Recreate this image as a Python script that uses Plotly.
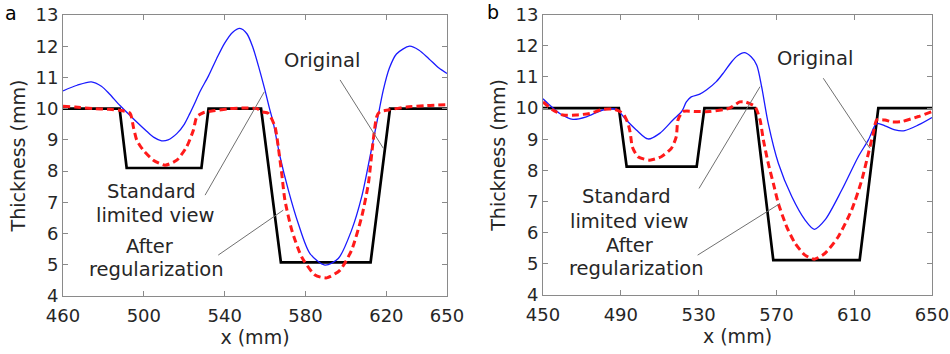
import plotly.graph_objects as go

# ---------------- data: panel a ----------------
a_orig_x = [460, 488, 491.5, 528.5, 532, 558, 567.8, 612.2, 621.8, 650]
a_orig_y = [10, 10, 8.1, 8.1, 10, 10, 5.08, 5.08, 10, 10]

a_std_x = [460, 467, 474, 479, 483, 488.2, 494.8, 501.4, 505, 508.8, 512, 516.3, 520, 522.8,
           525, 527.8, 532, 536, 540, 544, 547.5, 551, 554, 557, 559.9, 562, 564.1, 567.4,
           571.5, 576.4, 582.2, 589.6, 596.2, 602.8, 607.8, 611.9, 615.2, 618.5, 621.5, 625,
           631.5, 636, 641, 646, 650]
a_std_y = [10.57, 10.75, 10.86, 10.72, 10.47, 10.1, 9.68, 9.28, 9.08, 8.97, 9.0, 9.2, 9.5, 9.85,
           10.15, 10.55, 11.05, 11.6, 12.1, 12.45, 12.57, 12.4, 11.95, 11.3, 10.6, 10.05, 9.53, 8.46,
           7.39, 6.32, 5.36, 4.99, 5.2, 6.11, 7.18, 8.46, 9.53, 10.6, 11.3, 11.75,
           12.0, 11.88, 11.6, 11.3, 11.13]

a_reg_x = [460, 466, 475, 482, 488, 493.2, 494.8, 496.5, 499.7, 504.7, 510.5, 516.3, 521.2,
           524.5, 526.2, 529.4, 534.4, 542, 550, 556, 558.3, 561.6, 564.9, 566.5, 568.2, 569.8,
           573.2, 578.1, 584.7, 590.5, 597.1, 602.8, 607.8, 611.1, 613.5, 615.2, 616.8, 621,
           630, 640, 650]
a_reg_y = [10.08, 10.05, 10.0, 9.98, 9.95, 9.85, 9.42, 8.99, 8.67, 8.35, 8.19, 8.35, 8.78,
           9.31, 9.74, 9.87, 9.93, 10.0, 10.02, 10.0, 9.9, 9.85, 9.42, 8.78, 7.93, 7.07,
           6.11, 5.25, 4.67, 4.58, 4.83, 5.47, 6.54, 7.6, 8.99, 9.74, 9.9, 9.96,
           10.05, 10.1, 10.13]

# ---------------- data: panel b ----------------
b_orig_x = [450, 489, 493, 529, 533, 559, 568.4, 612.8, 622.4, 650]
b_orig_y = [10, 10, 8.12, 8.12, 10, 10, 5.12, 5.12, 10, 10]

b_std_x = [450, 453.4, 458.6, 465.4, 472.3, 480.8, 487.7, 492.8, 498, 504, 510, 516.8, 521.4,
           523.7, 526.2, 530.6, 534, 539.1, 543, 547, 550, 553.5, 557, 559.9, 562.4, 565.8,
           571, 577.9, 584.7, 589.5, 595, 603.6, 612.1, 617.3, 621.6, 625.8, 631, 636, 643, 650]
b_std_y = [10.3, 10.1, 9.83, 9.64, 9.72, 9.94, 9.96, 9.62, 9.3, 9.01, 9.19, 9.62, 9.9,
           10.2, 10.36, 10.45, 10.58, 10.85, 11.15, 11.49, 11.68, 11.78, 11.65, 11.38, 10.69, 9.51,
           8.23, 7.16, 6.41, 6.11, 6.41, 7.37, 8.44, 8.98, 9.51, 9.43, 9.3, 9.28, 9.46, 9.7]

b_reg_x = [450, 455.1, 460.3, 467.1, 474, 480.8, 486.9, 491.1, 493.7, 494.9, 495.9, 498.8,
           504.9, 510.8, 516, 518.5, 519.4, 522, 528.8, 535.7, 546, 551.1, 554, 559, 561.6,
           563.3, 565.8, 568.4, 571, 575.3, 579.6, 584.7, 589.5, 595, 601.8, 608.7, 613.9,
           617.3, 619.8, 621.6, 625.8, 629.3, 634.4, 643, 650]
b_reg_y = [10.2, 9.94, 9.78, 9.78, 9.83, 9.96, 9.96, 9.83, 9.51, 9.19, 8.76, 8.44,
           8.33, 8.44, 8.71, 9.08, 9.62, 9.89, 9.89, 9.89, 10.0, 10.2, 10.2, 10.05, 9.62,
           8.98, 8.23, 7.59, 6.94, 6.19, 5.66, 5.28, 5.15, 5.34, 5.87, 6.73, 7.69,
           8.55, 9.19, 9.62, 9.62, 9.56, 9.57, 9.73, 9.89]

a_xticks = [460, 500, 540, 580, 620, 650]
b_xticks = [450, 490, 530, 570, 610, 650]
y_ticks = [4, 5, 6, 7, 8, 9, 10, 11, 12, 13]

# label text lines: (text, px, py) in figure pixels
a_texts = [("Original", 321.7, 60), ("Standard", 151.7, 191.5), ("limited view", 155, 215),
           ("After", 150, 246.5), ("regularization", 156, 269.5)]
b_texts = [("Original", 815, 58.3), ("Standard", 626.7, 196.5), ("limited view", 629, 221.5),
           ("After", 630, 245), ("regularization", 636.7, 268.5)]
# leader lines in data coords: (x0, y0, x1, y1)
a_leaders = [(597.1, 10.92, 618.5, 8.73), (530.3, 7.23, 559.6, 10.54), (536.8, 5.31, 569, 6.75)]
b_leaders = [(594.1, 10.96, 618.1, 8.71), (530.2, 7.42, 561.6, 10.69), (529.5, 5.28, 571.9, 6.94)]

FONT = "DejaVu Sans"
TXT = "#262626"
AX = "#8a8a8a"
W, H = 950, 354

fig = go.Figure()

def add_panel(xo, yo, xs, ys, xr, yr, xa, ya):
    fig.add_trace(go.Scatter(x=xo, y=yo, mode="lines", line=dict(color="black", width=2.7),
                             xaxis=xa, yaxis=ya, showlegend=False, hoverinfo="skip"))
    fig.add_trace(go.Scatter(x=xs, y=ys, mode="lines",
                             line=dict(color="#1a1aff", width=1.3, shape="spline", smoothing=0.8),
                             xaxis=xa, yaxis=ya, showlegend=False, hoverinfo="skip"))
    fig.add_trace(go.Scatter(x=xr, y=yr, mode="lines",
                             line=dict(color="#ff1a1a", width=3, dash="7px,4px", shape="spline", smoothing=0.6),
                             xaxis=xa, yaxis=ya, showlegend=False, hoverinfo="skip"))

add_panel(a_orig_x, a_orig_y, a_std_x, a_std_y, a_reg_x, a_reg_y, "x", "y")
add_panel(b_orig_x, b_orig_y, b_std_x, b_std_y, b_reg_x, b_reg_y, "x2", "y2")

axis_common = dict(showline=True, linecolor=AX, linewidth=1, mirror="ticks", ticks="inside",
                   ticklen=5, tickcolor=AX, showgrid=False, zeroline=False, automargin=False,
                   tickfont=dict(family=FONT, size=18, color=TXT),
                   title_font=dict(family=FONT, size=19, color=TXT))

fig.update_layout(
    width=W, height=H, margin=dict(l=0, r=0, t=0, b=0),
    plot_bgcolor="white", paper_bgcolor="white",
    xaxis=dict(domain=[63 / W, 447 / W], range=[460, 650], tickvals=a_xticks, anchor="y",
               title=dict(text="x (mm)", standoff=5), ticklabelstandoff=3, **axis_common),
    yaxis=dict(domain=[1 - 296 / H, 1 - 15 / H], range=[4, 13], tickvals=y_ticks, anchor="x",
               title=dict(text="Thickness (mm)", standoff=4), **axis_common),
    xaxis2=dict(domain=[543 / W, 932 / W], range=[450, 650], tickvals=b_xticks, anchor="y2",
                title=dict(text="x (mm)", standoff=5), ticklabelstandoff=3, **axis_common),
    yaxis2=dict(domain=[1 - 295 / H, 1 - 14.7 / H], range=[4, 13], tickvals=y_ticks, anchor="x2",
                title=dict(text="Thickness (mm)", standoff=4), **axis_common),
)

for texts in (a_texts, b_texts):
    for text, px, py in texts:
        fig.add_annotation(x=px / W, y=1 - py / H, xref="paper", yref="paper", text=text,
                           showarrow=False, xanchor="center", yanchor="middle",
                           font=dict(family=FONT, size=19.5, color=TXT))
for leaders, xr, yr in ((a_leaders, "x", "y"), (b_leaders, "x2", "y2")):
    for x0, y0, x1, y1 in leaders:
        fig.add_shape(type="line", x0=x0, y0=y0, x1=x1, y1=y1, xref=xr, yref=yr,
                      line=dict(color="#707070", width=1))

fig.add_annotation(x=11 / W, y=1 - 13 / H, xref="paper", yref="paper", text="a", showarrow=False,
                   xanchor="center", yanchor="middle", font=dict(family=FONT, size=19, color="black"))
fig.add_annotation(x=493 / W, y=1 - 12 / H, xref="paper", yref="paper", text="b", showarrow=False,
                   xanchor="center", yanchor="middle", font=dict(family=FONT, size=19, color="black"))

fig.write_html("out.html", config={"displayModeBar": False},
               post_script="document.body.style.margin='0';")
